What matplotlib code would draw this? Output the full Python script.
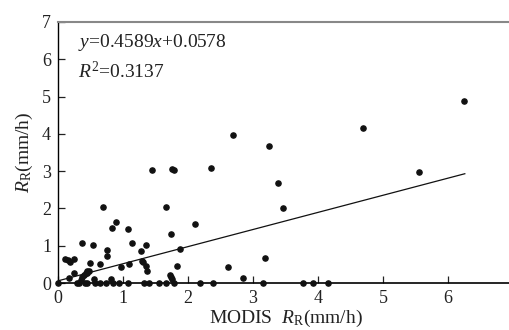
import matplotlib.pyplot as plt

plt.rcParams['font.family'] = ['Liberation Serif', 'DejaVu Serif']
plt.rcParams['mathtext.fontset'] = 'custom'
plt.rcParams['mathtext.rm'] = 'Liberation Serif'
plt.rcParams['mathtext.it'] = 'Liberation Serif:italic'

# MODIS rain rate (x) vs radar rain rate (y), mm/h
modis_x = [
    1.44, 1.76, 1.79, 2.36, 0.69, 1.66, 0.90, 0.83, 1.07, 2.11,
    1.74, 0.37, 0.54, 1.14, 1.36, 1.28, 0.76, 0.75, 1.88, 0.11,
    0.16, 0.19, 0.24, 1.30, 1.31, 1.36, 1.37, 0.49, 0.64, 1.10,
    0.97, 1.83, 2.61, 0.24, 0.45, 0.43, 0.40, 0.37, 0.17, 1.73,
    1.74, 1.76, 2.84, 0.56, 0.82, 0.35, 0.44, 0.47,
    0.00, 0.29, 0.33, 0.42, 0.45, 0.57, 0.65, 0.74, 0.84, 0.94,
    1.07, 1.33, 1.40, 1.56, 1.66, 1.79, 2.19, 2.38, 3.16, 3.77,
    3.93, 4.16,
    5.55, 3.39, 3.46, 3.18, 6.25, 4.70, 3.25, 2.69,
]
radar_y = [
    3.03, 3.07, 3.03, 3.09, 2.03, 2.03, 1.63, 1.47, 1.45, 1.57,
    1.32, 1.07, 1.02, 1.07, 1.02, 0.87, 0.88, 0.72, 0.92, 0.64,
    0.63, 0.57, 0.64, 0.59, 0.55, 0.46, 0.33, 0.53, 0.50, 0.52,
    0.43, 0.46, 0.42, 0.28, 0.33, 0.27, 0.21, 0.16, 0.13, 0.22,
    0.16, 0.11, 0.13, 0.12, 0.12, 0.07, 0.26, 0.33,
    0.00, 0.00, 0.00, 0.00, 0.00, 0.00, 0.00, 0.00, 0.00, 0.00,
    0.00, 0.00, 0.00, 0.00, 0.00, 0.00, 0.00, 0.00, 0.00, 0.00,
    0.00, 0.00,
    2.97, 2.69, 2.02, 0.67, 4.88, 4.17, 3.68, 3.96,
]

slope = 0.4589
intercept = 0.0578
fit_x = [0.0, 6.26]

fig = plt.figure(figsize=(5.1, 3.3), dpi=100)
ax = fig.add_axes([0.1137, 0.1424, 0.892, 0.791])

ax.scatter(modis_x, radar_y, s=14, color='#111111', zorder=3, clip_on=False)
ax.plot(fit_x, [slope * v + intercept for v in fit_x], color='#111111', lw=0.9)

ax.set_xlim(0, 7)
ax.set_ylim(0, 7)
ax.set_xticks(range(0, 8))
ax.set_yticks(range(0, 8))
ax.tick_params(direction='in', length=5, width=0.9, labelsize=13, colors='#222222', pad=5)

ax.spines['left'].set_linewidth(1.0)
ax.spines['bottom'].set_linewidth(1.2)
ax.spines['top'].set_color('#888888')
ax.spines['top'].set_linewidth(1.5)
ax.spines['right'].set_visible(False)

ax.set_xlabel(r'MODIS  $\mathit{R}_{\mathrm{R}}$(mm/h)', fontsize=14, color='#222222', labelpad=1)
ax.set_ylabel(r'$\mathit{R}_{\mathrm{R}}$(mm/h)', fontsize=14, color='#222222', labelpad=5)

ax.text(0.31, 6.72, r'$\mathit{y}$=0.4589$\mathit{x}$+0.0578', fontsize=14, va='top', color='#222222')
ax.text(0.31, 5.95, r'$\mathit{R}^{2}$=0.3137', fontsize=14, va='top', color='#222222')

fig.savefig('out.png', dpi=100)
